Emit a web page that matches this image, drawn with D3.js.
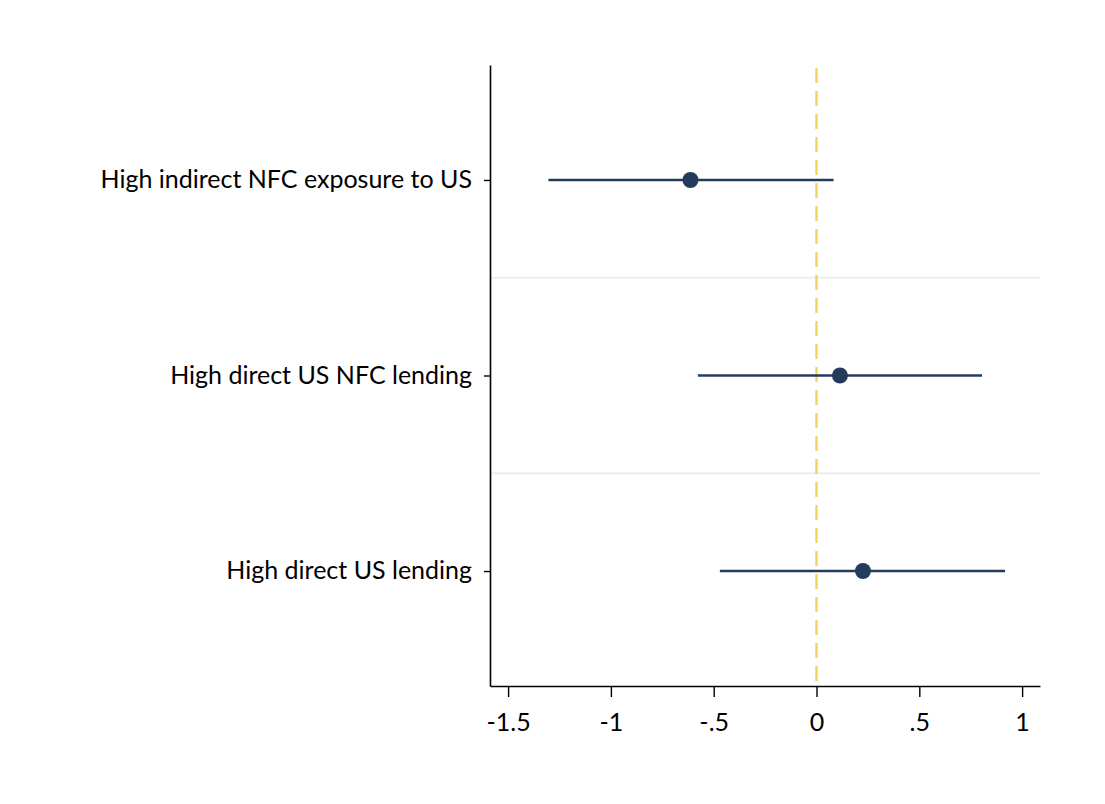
<!DOCTYPE html>
<html>
<head>
<meta charset="utf-8">
<script src="https://cdn.jsdelivr.net/npm/d3@7"></script>
<style>
  body { margin: 0; background: #fff; }
  text { font-family: Lato, "Open Sans", sans-serif; fill: #000; }
</style>
</head>
<body>
<svg id="chart" width="1105" height="804"></svg>
<script>
// coefficient estimates with 95% intervals, top row first
const labels = ['High indirect NFC exposure to US', 'High direct US NFC lending', 'High direct US lending'];
const estimates = [-0.613, 0.114, 0.226];
const lower = [-1.304, -0.577, -0.470];
const upper = [0.083, 0.805, 0.917];
const xTicks = [-1.5, -1, -0.5, 0, 0.5, 1];
const xTickLabels = ['-1.5', '-1', '-.5', '0', '.5', '1'];

const svg = d3.select('#chart');
const margin = { left: 490, right: 65, top: 65, bottom: 118 };
const W = 1105, H = 804;

const x = d3.scaleLinear()
  .domain([-1.588, 1.087])
  .range([margin.left, W - margin.right]);
const y = d3.scaleLinear()
  .domain([0.412, 3.588])
  .range([margin.top, H - margin.bottom]);

const rows = labels.map((l, i) => ({ label: l, pos: i + 1, est: estimates[i], lo: lower[i], hi: upper[i] }));

// light separators between rows
svg.append('g').selectAll('line')
  .data([1.5, 2.5])
  .enter().append('line')
  .attr('x1', x.range()[0]).attr('x2', x.range()[1])
  .attr('y1', d => y(d)).attr('y2', d => y(d))
  .attr('stroke', '#e8eff1').attr('stroke-width', 2);

// zero reference line
svg.append('line')
  .attr('x1', x(0)).attr('x2', x(0))
  .attr('y1', 68).attr('y2', y.range()[1])
  .attr('stroke', '#f2d35e').attr('stroke-width', 2.4)
  .attr('stroke-dasharray', '15,8');

// axes
const xAxis = svg.append('g')
  .attr('transform', 'translate(0,' + y.range()[1] + ')')
  .call(d3.axisBottom(x).tickValues(xTicks).tickSizeInner(11).tickSizeOuter(0)
    .tickFormat((d, i) => xTickLabels[i]));
xAxis.select('.domain').attr('stroke', '#000').attr('stroke-width', 1.6);
xAxis.selectAll('.tick line').attr('stroke', '#000').attr('stroke-width', 1.4);
xAxis.selectAll('.tick text').attr('font-size', 25).attr('dy', '1.25em')
  .style('font-family', 'Lato, "Open Sans", sans-serif').attr('fill', '#000');

const yAxis = svg.append('g')
  .attr('transform', 'translate(' + x.range()[0] + ',0)')
  .call(d3.axisLeft(y).tickValues(rows.map(r => r.pos)).tickSizeInner(6).tickSizeOuter(0)
    .tickPadding(12).tickFormat((d, i) => labels[i]));
yAxis.select('.domain').attr('stroke', '#000').attr('stroke-width', 1.6);
yAxis.selectAll('.tick line').attr('stroke', '#000').attr('stroke-width', 1.4);
yAxis.selectAll('.tick text').attr('font-size', 25).attr('dy', '0.3em')
  .style('font-family', 'Lato, "Open Sans", sans-serif').attr('fill', '#000');

// confidence intervals and point estimates
const g = svg.append('g');
g.selectAll('.ci')
  .data(rows)
  .enter().append('line')
  .attr('class', 'ci')
  .attr('x1', d => x(d.lo)).attr('x2', d => x(d.hi))
  .attr('y1', d => y(d.pos)).attr('y2', d => y(d.pos))
  .attr('stroke', '#243c5c').attr('stroke-width', 2.5);
g.selectAll('.pt')
  .data(rows)
  .enter().append('circle')
  .attr('class', 'pt')
  .attr('cx', d => x(d.est)).attr('cy', d => y(d.pos))
  .attr('r', 8)
  .attr('fill', '#243c5c');
</script>
</body>
</html>
